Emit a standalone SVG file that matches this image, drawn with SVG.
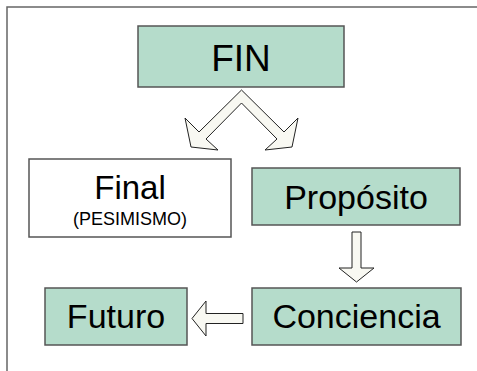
<svg xmlns="http://www.w3.org/2000/svg" width="477" height="371" viewBox="0 0 477 371">
<style>
.box{fill:#b5dccb;stroke:#555;stroke-width:1.5}
.wbox{fill:#fff;stroke:#555;stroke-width:1.5}
.arr{fill:#f8f8f2;stroke:#222;stroke-width:1;stroke-linejoin:miter}
text{font-family:"Liberation Sans",Arial,sans-serif;fill:#000;text-anchor:middle}
</style>
<rect x="0" y="0" width="477" height="371" fill="#fff"/>
<rect x="7" y="7" width="490" height="390" fill="none" stroke="#666" stroke-width="1.5"/>
<g id="connectors">
<polygon class="arr" points="241.5,90 284,132 298,118 292,147 265,150 277,139 241.5,103 206,139 218,150 191,147 185,118 199,132"/>
<polygon class="arr" points="352,232 361,232 361,268 374,268 356.5,282 339,268 352,268"/>
<polygon class="arr" points="243,313.5 243,323.5 206,323.5 206,336 192,318.5 206,301 206,313.5"/>
</g>
<g id="fin"><rect class="box" x="138" y="26" width="206" height="61"/><text x="241" y="71" font-size="37">FIN</text></g>
<g id="final"><rect class="wbox" x="29" y="159" width="202" height="78"/><text x="130" y="199" font-size="33">Final</text><text x="130" y="225" font-size="18">(PESIMISMO)</text></g>
<g id="proposito"><rect class="box" x="252" y="168" width="208" height="57"/><text x="356" y="209" font-size="34">Propósito</text></g>
<g id="futuro"><rect class="box" x="45" y="288" width="142" height="57"/><text x="116" y="328" font-size="34">Futuro</text></g>
<g id="conciencia"><rect class="box" x="252" y="288" width="209" height="57"/><text x="356.5" y="328" font-size="34">Conciencia</text></g>
</svg>
